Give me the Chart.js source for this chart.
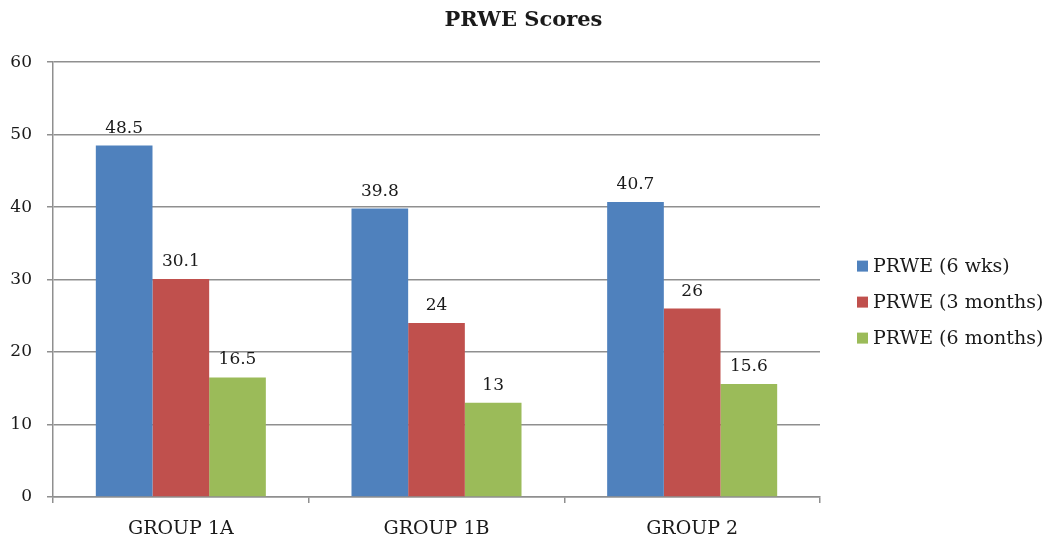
<!DOCTYPE html>
<html>
<head>
<meta charset="utf-8">
<script src="https://cdn.jsdelivr.net/npm/chart.js@4.4.0/dist/chart.umd.min.js"></script>
<style>
  html, body { margin: 0; padding: 0; background: #ffffff; }
  #wrap { width: 1047px; height: 535px; }
</style>
</head>
<body>
<div id="wrap"><canvas id="c" width="1047" height="535"></canvas></div>
<script>
const categories = ["GROUP 1A", "GROUP 1B", "GROUP 2"];
const seriesNames = ["PRWE (6 wks)", "PRWE (3 months)", "PRWE (6 months)"];
const prwe6wks = [48.5, 39.8, 40.7];
const prwe3months = [30.1, 24, 26];
const prwe6months = [16.5, 13, 15.6];
const yTicks = [0, 10, 20, 30, 40, 50, 60];
const chartTitle = "PRWE Scores";

const FONT = "'DejaVu Serif', 'Liberation Serif', serif";
const colors = ["#4F81BD", "#C0504D", "#9BBB59"];
const textColor = "#1a1a1a";
const gridColor = "#8f8f8f";

const valueLabels = {
  id: 'valueLabels',
  afterDatasetsDraw(chart) {
    const ctx = chart.ctx;
    ctx.save();
    ctx.font = "17px " + FONT;
    ctx.fillStyle = textColor;
    ctx.textAlign = "center";
    ctx.textBaseline = "alphabetic";
    chart.data.datasets.forEach((ds, i) => {
      const meta = chart.getDatasetMeta(i);
      meta.data.forEach((bar, j) => {
        ctx.fillText(String(ds.data[j]), bar.x, bar.y - 13);
      });
    });
    ctx.restore();
  }
};

const sideLegend = {
  id: 'sideLegend',
  afterDraw(chart) {
    const ctx = chart.ctx;
    const area = chart.chartArea;
    ctx.save();
    ctx.font = "19px " + FONT;
    ctx.textBaseline = "middle";
    ctx.textAlign = "left";
    const n = chart.data.datasets.length;
    const gap = 36;
    const cy = (area.top + area.bottom) / 2 + 22;
    chart.data.datasets.forEach((ds, i) => {
      const y = cy + (i - (n - 1) / 2) * gap;
      const x = area.right + 37;
      ctx.fillStyle = ds.backgroundColor;
      ctx.fillRect(x, y - 5, 11, 11);
      ctx.fillStyle = textColor;
      ctx.fillText(ds.label, x + 16, y + 1);
    });
    ctx.restore();
  }
};

new Chart(document.getElementById('c'), {
  type: 'bar',
  data: {
    labels: categories,
    datasets: [
      { label: seriesNames[0], data: prwe6wks, backgroundColor: colors[0] },
      { label: seriesNames[1], data: prwe3months, backgroundColor: colors[1] },
      { label: seriesNames[2], data: prwe6months, backgroundColor: colors[2] }
    ]
  },
  options: {
    responsive: false,
    animation: false,
    devicePixelRatio: 1,
    layout: { padding: 0 },
    datasets: { bar: { categoryPercentage: 0.665, barPercentage: 1.0, borderWidth: 0 } },
    plugins: {
      legend: { display: false },
      tooltip: { enabled: false },
      title: {
        display: true,
        text: chartTitle,
        color: textColor,
        font: { family: FONT, size: 21, weight: 'bold', lineHeight: 1.2 },
        padding: { top: 8, bottom: 29 }
      }
    },
    scales: {
      x: {
        grid: { display: true, drawOnChartArea: false, drawTicks: true, tickLength: 6, color: gridColor, lineWidth: 1.5, offset: true },
        border: { display: true, color: gridColor, width: 1.5 },
        ticks: { color: textColor, font: { family: FONT, size: 19 }, padding: 15, maxRotation: 0 },
        afterFit(scale) { scale.height = 38; }
      },
      y: {
        min: 0, max: 60,
        afterBuildTicks(scale) { scale.ticks = yTicks.map(v => ({ value: v })); },
        grid: { color: gridColor, lineWidth: 1.5, tickLength: 6, drawTicks: true },
        border: { display: true, color: gridColor, width: 1.5 },
        ticks: { color: textColor, font: { family: FONT, size: 17 }, padding: 15 },
        afterFit(scale) { scale.width = 53; }
      },
      legendSpace: {
        type: 'linear',
        position: 'right',
        display: true,
        grid: { display: false, drawTicks: false },
        border: { display: false },
        ticks: { display: false },
        afterFit(scale) { scale.width = 227; }
      }
    }
  },
  plugins: [valueLabels, sideLegend]
});
</script>
</body>
</html>
